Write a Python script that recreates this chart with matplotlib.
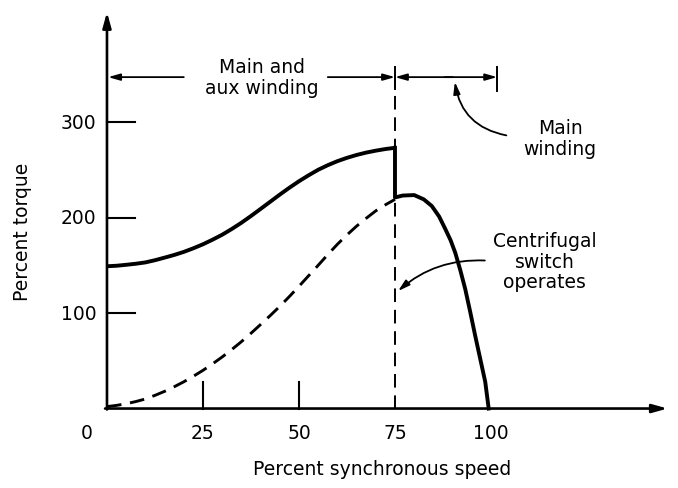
import matplotlib
matplotlib.use("Agg")
import matplotlib.pyplot as plt

# ---- data ----
aux_x = [0, 2.5, 5, 7.5, 10, 12.5, 15, 17.5, 20, 22.5, 25, 27.5, 30, 32.5, 35, 37.5, 40,
         42.5, 45, 47.5, 50, 52.5, 55, 57.5, 60, 62.5, 65, 67.5, 70, 72.5, 75]
aux_y = [149, 149.5, 150.5, 151.6, 153, 155.3, 158, 160.8, 164, 167.8, 172, 176.8, 182, 188, 194.5,
         201.6, 209, 216.5, 224, 231.2, 238, 244.2, 250, 254.8, 259, 262.5, 265.5, 268, 270, 271.7, 273]
main_x = [75, 75, 77, 80, 82.5, 84.6, 86.5, 88.1, 89.5, 90.7, 92, 93.3, 94.6, 95.9, 97.2, 98.5, 99.4]
main_y = [273, 221, 223, 223.5, 219, 212, 201, 188, 176, 163, 145, 125, 101, 76, 52, 28, 0]
dash_x = [0, 2.5, 5, 7.5, 10, 12.5, 15, 17.5, 20, 22.5, 25, 27.5, 30, 32.5, 35, 37.5, 40,
          42.5, 45, 47.5, 50, 52.5, 55, 57.5, 60, 62.5, 65, 67.5, 70, 72.5, 75]
dash_y = [2, 3.3, 5, 7.3, 10, 13.8, 18, 22.8, 28, 33.8, 40, 46.8, 54, 61.8, 70, 78.8, 88,
          97.3, 107, 117.3, 128, 139, 150, 161.2, 172, 181.8, 191, 199.2, 207, 213.3, 219]
x_ticks = [25, 50]
x_labels = [0, 25, 50, 75, 100]
y_ticks = [100, 200, 300]
switch_speed = 75
main_end = 101.6

plt.rcParams['font.family'] = ['DejaVu Sans']
FS = 13.5
fig = plt.figure(figsize=(6.78, 4.89), dpi=100)
ax = fig.add_axes([0, 0, 1, 1])
ax.set_xlim(-27.86, 148.7)
ax.set_ylim(-83.2, 428.8)
ax.axis('off')

k = 'black'
# axes with arrows
ax.annotate('', xy=(0, 415), xytext=(0, -1),
            arrowprops=dict(arrowstyle='-|>,head_length=0.9,head_width=0.25', color=k, lw=1.9, shrinkA=0, shrinkB=0))
ax.annotate('', xy=(146, 0), xytext=(-0.5, 0),
            arrowprops=dict(arrowstyle='-|>,head_length=0.9,head_width=0.25', color=k, lw=1.9, shrinkA=0, shrinkB=0))

# ticks
for yt in y_ticks:
    ax.plot([0, 7.3], [yt, yt], color=k, lw=1.5)
    ax.text(-2.8, yt, str(yt), ha='right', va='center', fontsize=FS)
for xt in x_ticks:
    ax.plot([xt, xt], [0, 28], color=k, lw=1.5)
for xl in x_labels:
    xp = -5.2 if xl == 0 else xl
    ax.text(xp, -25, str(xl), ha='center', va='center', fontsize=FS)

ax.text(-22, 186, 'Percent torque', rotation=90, ha='center', va='center', fontsize=FS)
ax.text(71.6, -63, 'Percent synchronous speed', ha='center', va='center', fontsize=FS)

# curves
ax.plot(aux_x, aux_y, color=k, lw=2.8, solid_capstyle='butt', solid_joinstyle='round')
ax.plot(main_x, main_y, color=k, lw=2.8, solid_joinstyle='round')
ax.plot(dash_x, dash_y, color=k, lw=2.1, dashes=(5, 3))

# switch line
ax.plot([switch_speed, switch_speed], [0, 358], color=k, lw=1.4, dashes=(7, 4))
ax.plot([switch_speed, switch_speed], [335, 358], color=k, lw=1.4)
ax.plot([main_end, main_end], [332, 358], color=k, lw=1.4)

ya = 347
hw = dict(arrowstyle='-|>,head_length=0.7,head_width=0.2', color=k, lw=1.3, shrinkA=0, shrinkB=0)
ax.annotate('', xy=(0.3, ya), xytext=(20, ya), arrowprops=hw)
ax.annotate('', xy=(switch_speed, ya), xytext=(57.5, ya), arrowprops=hw)
ax.annotate('', xy=(switch_speed, ya), xytext=(90, ya), arrowprops=hw)
ax.annotate('', xy=(main_end, ya), xytext=(88, ya), arrowprops=hw)
ax.text(40.4, ya, 'Main and\naux winding', ha='center', va='center', fontsize=FS, linespacing=1.15)

ax.text(118, 283, 'Main\nwinding', ha='center', va='center', fontsize=FS, linespacing=1.15)
ax.annotate('', xy=(90.6, 342), xytext=(104, 286),
            arrowprops=dict(arrowstyle='-|>,head_length=0.7,head_width=0.2', color=k, lw=1.3,
                            shrinkA=0, shrinkB=0, connectionstyle='arc3,rad=-0.35'))

ax.text(114, 154, 'Centrifugal\nswitch\noperates', ha='center', va='center', fontsize=FS, linespacing=1.1)
ax.annotate('', xy=(75.8, 123), xytext=(98.4, 155),
            arrowprops=dict(arrowstyle='-|>,head_length=0.7,head_width=0.2', color=k, lw=1.3,
                            shrinkA=0, shrinkB=0, connectionstyle='arc3,rad=0.2'))

fig.savefig('out.png', dpi=100)
